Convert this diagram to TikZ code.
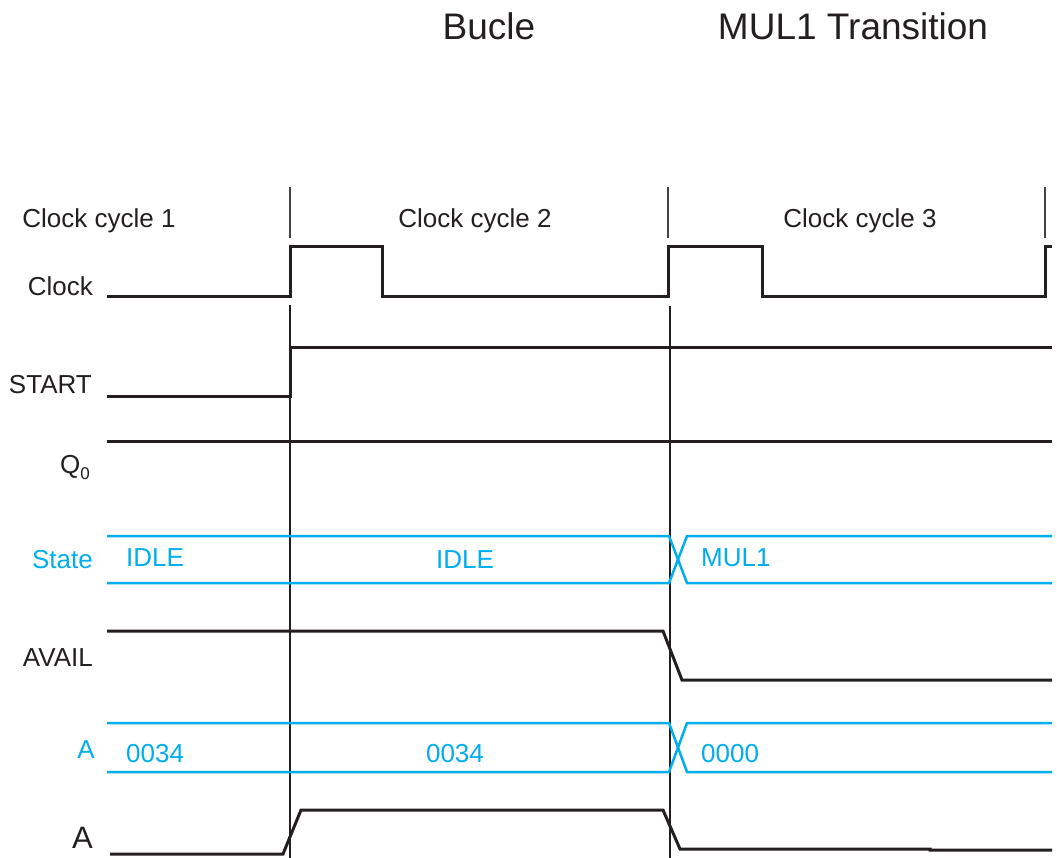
\documentclass[tikz,border=0pt]{standalone}
\usepackage{fontspec}
\setmainfont{Liberation Sans}
\definecolor{buscyan}{RGB}{0,174,239}
\definecolor{ink}{RGB}{35,31,32}
\begin{document}
\begin{tikzpicture}[x=1pt,y=-1pt,
  sig/.style={line width=3pt, ink, line join=miter},
  bus/.style={line width=2.5pt, buscyan},
  sync/.style={line width=2.5pt, ink},
  tick/.style={line width=1.3pt, ink!85},
  lbl/.style={font=\fontsize{26}{30}\selectfont, inner sep=0pt, text=ink},
  blbl/.style={lbl, text=buscyan},
  title/.style={font=\fontsize{37}{42}\selectfont, inner sep=0pt, text=ink}]
\useasboundingbox (0,0) rectangle (1057,858);

% titles
\node[title, anchor=base] (bucle) at (489,40) {Bucle};
\node[title, anchor=base] (mult) at (853,40) {MUL1 Transition};

% clock cycle headings and separators
\draw[tick] (290,187) -- (290,238);
\draw[tick] (668,187) -- (668,238);
\draw[tick] (1045,187) -- (1045,238);
\node[lbl, anchor=base] (cc1) at (99,228) {Clock cycle 1};
\node[lbl, anchor=base] (cc2) at (475,228) {Clock cycle 2};
\node[lbl, anchor=base] (cc3) at (860,228) {Clock cycle 3};

% signal names
\node[lbl, anchor=base east] (nclk) at (93,296) {Clock};
\node[lbl, anchor=base east] (nstart) at (92,393) {START};
\node[lbl, anchor=base east] (nq) at (90,473)
  {Q\raisebox{-6pt}{\fontsize{17}{20}\selectfont 0}};
\node[blbl, anchor=base east] (nstate) at (93,568) {State};
\node[lbl, anchor=base east] (navail) at (93,666) {AVAIL};
\node[blbl, anchor=base east] (nbusa) at (95,758) {A};
\node[lbl, anchor=base east, font=\fontsize{31}{36}\selectfont] (nsiga) at (93,848) {A};

% clock edge markers
\draw[sync] (290,305) -- (290,858);
\draw[sync] (670,306) -- (670,858);

% Clock
\draw[sig] (107,297) -- (290,297) -- (290,247) -- (382,247) -- (382,297)
  -- (668,297) -- (668,247) -- (762,247) -- (762,297) -- (1045,297)
  -- (1045,247) -- (1052,247);

% START
\draw[sig] (107,396) -- (290,396) -- (290,348) -- (1052,348);

% Q0
\draw[sig] (107,441) -- (1052,441);

% State bus
\draw[bus] (107,536) -- (669,536) -- (687,583) -- (1052,583);
\draw[bus] (107,583) -- (669,583) -- (687,536) -- (1052,536);
\node[blbl, anchor=base west] (s1) at (126,566) {IDLE};
\node[blbl, anchor=base] (s2) at (465,568) {IDLE};
\node[blbl, anchor=base west] (s3) at (701,566) {MUL1};

% AVAIL
\draw[sig] (107,631) -- (663,631) -- (682,680) -- (1052,680);

% A bus
\draw[bus] (107,723) -- (669,723) -- (687,772) -- (1052,772);
\draw[bus] (107,772) -- (669,772) -- (687,723) -- (1052,723);
\node[blbl, anchor=base west] (a1) at (126,762) {0034};
\node[blbl, anchor=base] (a2) at (455,762) {0034};
\node[blbl, anchor=base west] (a3) at (701,762) {0000};

% A
\draw[sig] (110,854) -- (283,854) -- (301,810) -- (663,810) -- (680,849)
  -- (930,849) -- (930,850) -- (1052,850);
\end{tikzpicture}
\end{document}
